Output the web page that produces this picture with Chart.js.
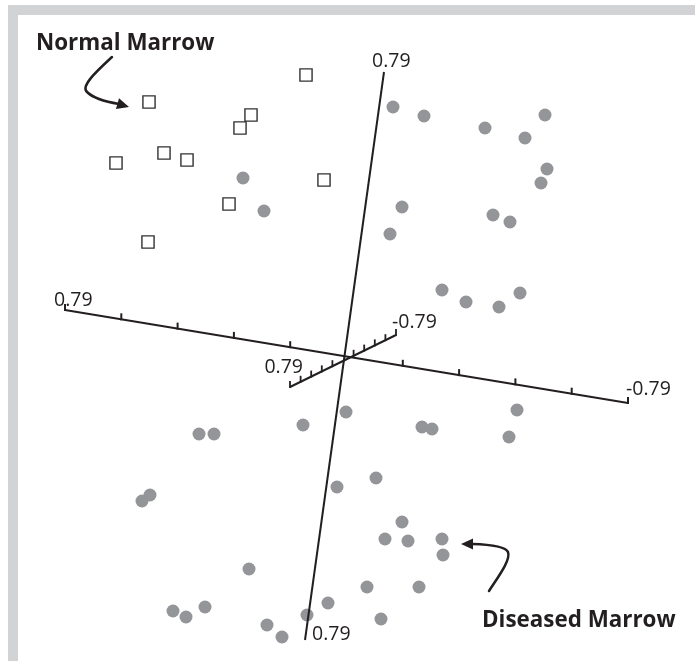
<!DOCTYPE html>
<html>
<head>
<meta charset="utf-8">
<script src="https://cdn.jsdelivr.net/npm/chart.js@4.4.1/dist/chart.umd.min.js"></script>
<style>
html,body{margin:0;padding:0;background:#fff;}
#wrap{position:relative;width:695px;height:661px;overflow:hidden;}
#frame{position:absolute;left:8px;top:5px;right:-20px;bottom:-20px;border-top:10px solid #d1d3d4;border-left:10px solid #d1d3d4;}
canvas{position:absolute;left:0;top:0;}
</style>
</head>
<body>
<div id="wrap"><div id="frame"></div><canvas id="c" width="695" height="661"></canvas></div>
<script>
// ---- Data (projected coordinates of the 3-D score plot) ----
const normalX = [-0.39, -1.96, -0.94, -1.05, -1.81, -1.58, -2.29, -0.21, -1.16, -1.97];
const normalY = [ 2.83,  2.56,  2.43,  2.30,  2.05,  1.98,  1.95,  1.78,  1.54,  1.16];

const diseasedX = [-1.02, -0.81, 0.48, 0.79, 1.40, 1.80, 2.00, 2.02, 1.96, 0.57, 0.45, 1.48, 1.65,
  0.97, 1.21, 1.54, 1.75, 0.01, -0.42, -1.46, -1.31, -1.95, -2.03, -0.08, -0.96, -1.72, -1.59,
  -1.40, -0.17, -0.38, -0.78, -0.63, 1.72, 0.77, 0.87, 1.64, 0.31, 0.57, 0.40, 0.63, 0.97, 0.98,
  0.22, 0.74, 0.36];
const diseasedY = [1.80, 1.47, 2.51, 2.42, 2.30, 2.20, 2.43, 1.89, 1.75, 1.51, 1.24, 1.43, 1.36,
  0.68, 0.56, 0.51, 0.65, -0.54, -0.67, -0.76, -0.76, -1.37, -1.43, -1.29, -2.11, -2.53, -2.59,
  -2.49, -2.45, -2.57, -2.67, -2.79, -0.52, -0.69, -0.71, -0.79, -1.20, -1.64, -1.81, -1.83, -1.81, -1.97,
  -2.29, -2.29, -2.61];

const seriesNames = ['Normal Marrow', 'Diseased Marrow'];
// principal-component axes: end points (projected) and end labels
const axisFrom   = [[-2.80, 0.48], [0.39, 2.86], [-0.55, -0.29]];
const axisTo     = [[ 2.83, -0.45], [-0.40, -2.82], [0.51, 0.23]];
const axisFromLabel = ['0.79', '0.79', '0.79'];
const axisToLabel   = ['-0.79', '0.79', '-0.79'];
const axisTickCount = [10, 0, 10];

const toPts = (xs, ys) => xs.map((v, i) => ({x: v, y: ys[i]}));

const overlay = {
  id: 'overlay',
  afterDatasetsDraw(chart) {
    const {ctx, scales: {x, y}} = chart;
    const P = (p) => [x.getPixelForValue(p[0]), y.getPixelForValue(p[1])];
    const ink = '#231f20';
    ctx.save();
    ctx.strokeStyle = ink; ctx.fillStyle = ink;
    ctx.lineWidth = 2; ctx.lineCap = 'butt';
    const tickLen = [6, 0, 6];
    axisFrom.forEach((f, k) => {
      const a = P(f), b = P(axisTo[k]);
      ctx.beginPath(); ctx.moveTo(a[0], a[1]); ctx.lineTo(b[0], b[1]); ctx.stroke();
      const n = axisTickCount[k];
      if (n) {
        ctx.lineWidth = k === 2 ? 1.8 : 2;
        for (let i = 0; i <= n; i++) {
          if (i === n / 2) continue;
          const t = i / n;
          const px = a[0] + (b[0] - a[0]) * t, py = a[1] + (b[1] - a[1]) * t;
          ctx.beginPath(); ctx.moveTo(px, py + 1); ctx.lineTo(px, py - tickLen[k]); ctx.stroke();
        }
        ctx.lineWidth = 2;
      }
    });
    // end labels
    ctx.font = '19.5px "Open Sans", sans-serif';
    ctx.textBaseline = 'alphabetic';
    const lab = (txt, p, dx, dy, align) => { ctx.textAlign = align; ctx.fillText(txt, p[0] + dx, p[1] + dy); };
    lab(axisFromLabel[0], P(axisFrom[0]), -11, -4, 'left');
    lab(axisToLabel[0],   P(axisTo[0]),   -2, -8, 'left');
    lab(axisFromLabel[1], P(axisFrom[1]), -12, -5, 'left');
    lab(axisToLabel[1],   P(axisTo[1]),    7,  0, 'left');
    lab(axisFromLabel[2], P(axisFrom[2]), 13, -14, 'right');
    lab(axisToLabel[2],   P(axisTo[2]),   -4, -7, 'left');

    // annotations
    ctx.font = 'bold 22.4px "Open Sans", sans-serif';
    ctx.textAlign = 'left';
    ctx.fillText(seriesNames[0], 36, 50);
    ctx.fillText(seriesNames[1], 482, 627);

    ctx.lineWidth = 2.5; ctx.lineCap = 'round';
    const head = (tip, from) => {
      const ang = Math.atan2(tip[1] - from[1], tip[0] - from[0]);
      const L = 12, W = 5.5;
      ctx.beginPath();
      ctx.moveTo(tip[0], tip[1]);
      ctx.lineTo(tip[0] - L * Math.cos(ang) + W * Math.sin(ang), tip[1] - L * Math.sin(ang) - W * Math.cos(ang));
      ctx.lineTo(tip[0] - L * Math.cos(ang) - W * Math.sin(ang), tip[1] - L * Math.sin(ang) + W * Math.cos(ang));
      ctx.closePath(); ctx.fill();
    };
    ctx.beginPath();
    ctx.moveTo(112, 57);
    ctx.bezierCurveTo(98, 70, 80, 86, 87, 92);
    ctx.quadraticCurveTo(95, 100, 119, 104);
    ctx.stroke();
    head([129, 107], [117, 103.5]);

    ctx.beginPath();
    ctx.moveTo(489, 591);
    ctx.bezierCurveTo(498, 577, 511, 560, 508, 552);
    ctx.quadraticCurveTo(505, 545, 472, 544);
    ctx.stroke();
    head([461, 544], [474, 544]);
    ctx.restore();
  }
};

new Chart(document.getElementById('c'), {
  type: 'scatter',
  data: {
    datasets: [
      {
        label: seriesNames[1],
        data: toPts(diseasedX, diseasedY),
        pointStyle: 'circle', pointRadius: 6.5,
        backgroundColor: '#939598', borderWidth: 0
      },
      {
        label: seriesNames[0],
        data: toPts(normalX, normalY),
        pointStyle: 'rect', pointRadius: 8.6,
        backgroundColor: '#ffffff', borderColor: '#333132', borderWidth: 1.4
      }
    ]
  },
  options: {
    responsive: false,
    animation: false,
    events: [],
    layout: {padding: 0, autoPadding: false},
    plugins: {legend: {display: false}, tooltip: {enabled: false}},
    scales: {
      x: {type: 'linear', min: -3.45, max: 3.50, display: false},
      y: {type: 'linear', min: -3.03, max: 3.58, display: false}
    }
  },
  plugins: [overlay]
});
</script>
</body>
</html>
